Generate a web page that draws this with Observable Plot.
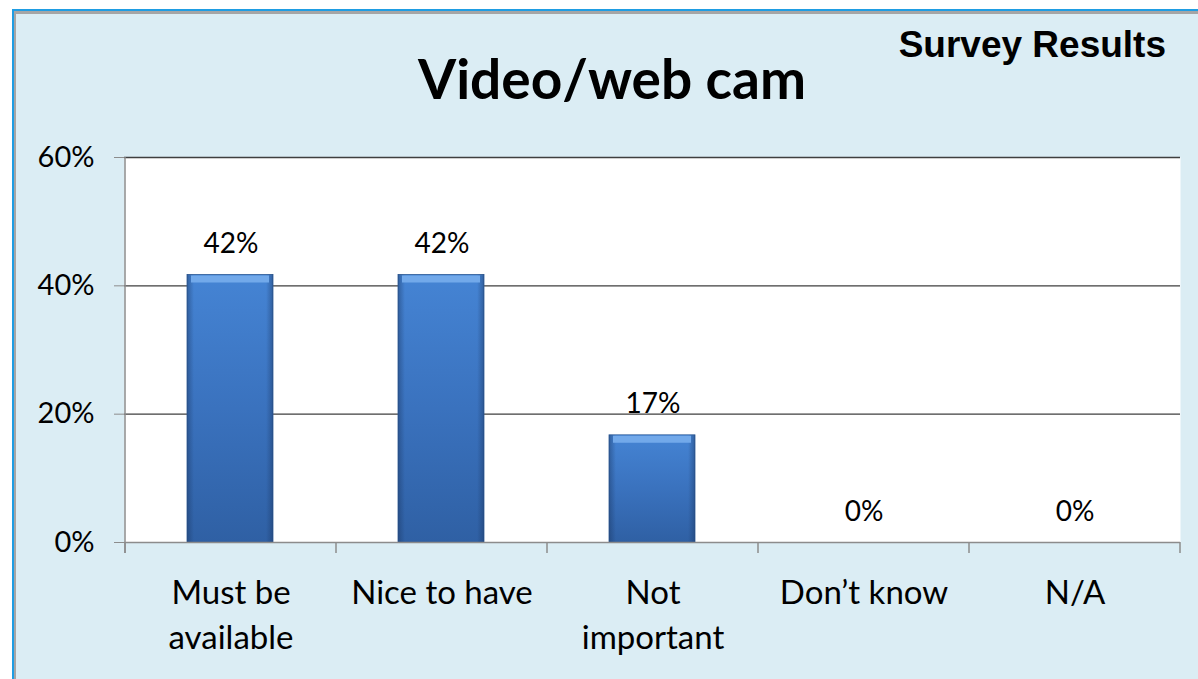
<!DOCTYPE html>
<html><head><meta charset="utf-8">
<script src="https://cdn.jsdelivr.net/npm/d3@7"></script>
<script src="https://cdn.jsdelivr.net/npm/@observablehq/plot@0.6"></script>
<style>
html,body{margin:0;padding:0;background:#fff;width:1198px;height:679px;overflow:hidden;position:relative;}
#outer{position:absolute;left:12px;top:9px;width:1186px;height:670px;box-sizing:border-box;border-top:2px solid #1F9DE3;border-left:2px solid #1F9DE3;}
#inner{position:absolute;left:0;top:0;right:0;bottom:0;box-sizing:border-box;border-top:3px solid #A5A5A5;border-left:2px solid #A5A5A5;background:#DBEDF4;}
#chart{position:absolute;left:0;top:0;}
#title{position:absolute;left:0;top:51px;width:1224px;text-align:center;font:bold 55px Lato,sans-serif;line-height:1;color:#000;}
#survey{position:absolute;right:32px;top:26px;font:bold 37px "Liberation Sans",Arial,sans-serif;line-height:1;color:#000;}
</style></head>
<body>
<div id="outer"><div id="inner"></div></div>
<div id="chart"></div>
<div id="title">Video/web cam</div>
<div id="survey">Survey Results</div>
<script>
const categories = ["Must be\navailable", "Nice to have", "Not\nimportant", "Don’t know", "N/A"];
const values = [41.7, 41.7, 16.7, 0, 0];
const valueLabels = ["42%", "42%", "17%", "0%", "0%"];
const yTicks = [0, 20, 40, 60];

const data = categories.map((c, i) => ({category: c, value: values[i], label: valueLabels[i]}));

const defsMark = () => {
  const defs = d3.create("svg:defs");
  const v = defs.append("linearGradient").attr("id", "vgrad").attr("x1", 0).attr("y1", 0).attr("x2", 0).attr("y2", 1);
  v.append("stop").attr("offset", "0%").attr("stop-color", "#4584D4");
  v.append("stop").attr("offset", "50%").attr("stop-color", "#3A72BE");
  v.append("stop").attr("offset", "100%").attr("stop-color", "#2F60A4");
  const h = defs.append("linearGradient").attr("id", "hgrad").attr("x1", 0).attr("y1", 0).attr("x2", 1).attr("y2", 0);
  h.append("stop").attr("offset", "0%").attr("stop-color", "#1a3560").attr("stop-opacity", 0.45);
  h.append("stop").attr("offset", "8%").attr("stop-color", "#1a3560").attr("stop-opacity", 0);
  h.append("stop").attr("offset", "92%").attr("stop-color", "#1a3560").attr("stop-opacity", 0);
  h.append("stop").attr("offset", "100%").attr("stop-color", "#1a3560").attr("stop-opacity", 0.45);
  return defs.node();
};

function axesMark(index, scales, values, dims) {
  const x = scales.x, y = scales.y;
  const n = categories.length;
  const bw = x.bandwidth ? x.bandwidth() : (dims.width - dims.marginLeft - dims.marginRight) / n;
  const g = d3.create("svg:g").attr("stroke", "#8C8C8C").attr("stroke-width", 1.5);
  const y0 = y(0), yTop = y(60);
  g.append("line").attr("x1", x(categories[0])).attr("x2", x(categories[0])).attr("y1", yTop).attr("y2", y0 + 11);
  const bounds = categories.map(c => x(c)).concat([x(categories[n - 1]) + bw]);
  for (const b of bounds) g.append("line").attr("x1", b).attr("x2", b).attr("y1", y0).attr("y2", y0 + 11);
  return g.node();
}

const chart = Plot.plot({
  width: 1198,
  height: 679,
  marginLeft: 124,
  marginRight: 18,
  marginTop: 157,
  marginBottom: 137,
  style: {background: "transparent", fontFamily: "Lato, sans-serif", color: "#000", overflow: "visible"},
  x: {domain: categories, padding: 0, axis: null},
  y: {domain: [0, 60], axis: null},
  marks: [
    defsMark,
    Plot.frame({fill: "white", stroke: null}),
    Plot.gridY(yTicks.filter(d => d > 0), {stroke: "#3F3F3F", strokeOpacity: 1, strokeWidth: 1.4}),
    Plot.barY(data.filter(d => d.value > 0), {x: "category", y: "value", fill: "url(#vgrad)", insetLeft: 62, insetRight: 63, stroke: "#2E5B96", strokeWidth: 0.8}),
    Plot.barY(data.filter(d => d.value > 0), {x: "category", y: "value", fill: "url(#hgrad)", insetLeft: 62, insetRight: 63}),
    Plot.tickY(data.filter(d => d.value > 0), {x: "category", y: "value", stroke: "#72A9EA", strokeWidth: 7, dy: 4, insetLeft: 66, insetRight: 67}),
    Plot.ruleY([0], {stroke: "#8C8C8C", strokeWidth: 1.5}),
    axesMark,
    Plot.axisY(yTicks, {label: null, tickSize: 10, tickPadding: 20, tickFormat: d => d + "%", fontSize: 29, stroke: "#8C8C8C", fill: "#000"}),
    Plot.text(data, {x: "category", y: "value", text: "label", lineAnchor: "bottom", dy: -22, fontSize: 28, fill: "#000"}),
    Plot.text(data, {x: "category", text: "category", frameAnchor: "bottom", lineAnchor: "top", dy: 30, fontSize: 33, lineHeight: 1.36, fill: "#000"})
  ]
});
document.getElementById("chart").appendChild(chart);
</script>
</body></html>
